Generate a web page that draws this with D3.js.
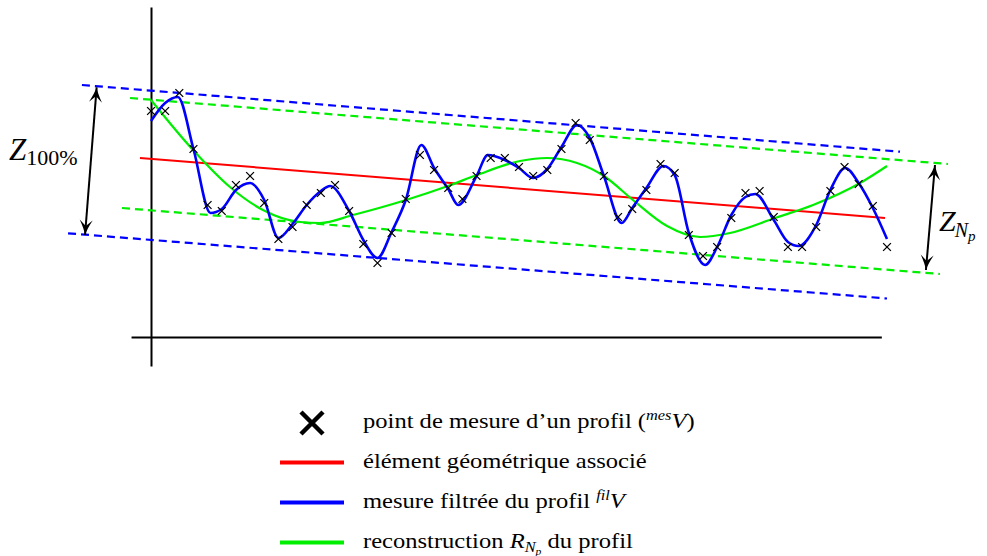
<!DOCTYPE html>
<html><head><meta charset="utf-8">
<script src="https://cdn.jsdelivr.net/npm/d3@7"></script>
<style>body{margin:0;background:#fff} svg{display:block}</style>
</head><body>
<svg id="c" width="987" height="556"></svg>
<script>
// ---- data (x: sample position, v: profile height, arbitrary units) ----
const sampleX = [0,1,2,3,4,5,6,7,8,9,10,11,12,13,14,15,16,17,18,19,20,21,22,23,24,25,26,27,28,29,30,31,32,33,34,35,36,37,38,39,40,41,42,43,44,45,46,47,48,49,50,51,52];
const measuredV = [22.6,22.6,24.4,18.8,13.2,12.6,15.2,16.1,13.4,9.8,11.0,13.2,14.4,15.2,12.6,9.3,7.4,10.4,13.8,18.2,16.7,14.9,13.8,16.1,17.9,17.9,17.0,16.1,16.7,18.8,21.4,19.7,16.1,12.0,12.8,14.7,17.3,16.4,10.2,8.1,9.0,11.9,14.4,14.6,12.0,9.0,9.0,11.0,14.6,17.0,15.3,13.1,9.0];

const filteredX = [0,1,1.9,3,4.2,5,6,7,8,9,10,11,12,12.65,14,15,16,17,18,19.1,20,21,21.7,23,23.8,25,26,27,28,29,30.1,31,32,33.25,34,35,36.2,37,38,39.15,40,41,42,42.7,44,45,45.75,47,48,49.05,50,51,52];
const filteredV = [21.6,23.4,24.0,18.8,12.4,12.8,14.7,15.4,13.7,9.9,11.3,13.2,14.6,15.1,12.6,9.7,7.9,10.5,13.7,19.2,16.9,14.8,13.2,16.1,18.2,17.7,16.9,15.9,16.8,19.0,21.2,19.9,16.1,11.4,12.9,14.9,17.1,16.2,10.4,7.2,9.0,12.2,14.0,14.3,11.7,9.5,9.1,11.2,14.7,16.9,15.4,12.9,9.8];

const reconX = [0,2.97,5.58,7.91,10.53,11.94,14.27,18.02,20.98,23.03,26.07,27.98,30.1,32.0,34.05,36.46,38.79,40.91,44.09,46.78,50.1,52];
const reconV = [23.7,18.7,15.0,12.7,11.5,11.4,12.2,13.7,15.1,16.2,17.6,17.9,17.4,16.1,13.7,11.1,10.0,10.4,11.9,13.2,15.4,17.1];

const assocX = [-0.78, 51.86];
const assocV = [17.9, 11.9];

const envBlueTopX = [-4.88, 52.92], envBlueTopV = [25.2, 18.53];
const envBlueBotX = [-5.86, 52.0],  envBlueBotV = [10.37, 3.85];
const envGreenTopX = [-1.48, 56.31], envGreenTopV = [23.9, 17.3];
const envGreenBotX = [-2.05, 55.74], envGreenBotV = [12.9, 6.3];

const arrowZ100X = [-3.84, -4.66], arrowZ100V = [24.97, 10.2];
const arrowZNpX = [55.39, 54.75], arrowZNpV = [17.2, 6.7];

const axisXExtent = [-1.41, 51.6];
const axisVExtent = [-2.9, 33.0];

const legendLabels = ["point de mesure d’un profil", "élément géométrique associé", "mesure filtrée du profil", "reconstruction"];

// ---- drawing ----
const svg = d3.select("#c");
const x = d3.scaleLinear().domain([0, 52]).range([151, 887]);
const y = d3.scaleLinear().domain([0, 33]).range([337, 7]);

const zip = (xs, vs) => xs.map((d, i) => [d, vs[i]]);
const line = d3.line().x(d => x(d[0])).y(d => y(d[1]));

// axes (no ticks)
const xAxisScale = d3.scaleLinear().domain(axisXExtent).range(axisXExtent.map(x));
const yAxisScale = d3.scaleLinear().domain(axisVExtent).range(axisVExtent.map(y));
const gx = svg.append("g").attr("transform", `translate(0,${y(0)})`)
  .call(d3.axisBottom(xAxisScale).tickValues([]).tickSizeOuter(0));
const gy = svg.append("g").attr("transform", `translate(${x(0)},0)`)
  .call(d3.axisLeft(yAxisScale).tickValues([]).tickSizeOuter(0));
[gx, gy].forEach(g => g.select(".domain").attr("stroke", "#000").attr("stroke-width", 2));

// dashed envelopes
const dashed = [
  [envBlueTopX, envBlueTopV, "#0000ff"],
  [envBlueBotX, envBlueBotV, "#0000ff"],
  [envGreenTopX, envGreenTopV, "#00ee00"],
  [envGreenBotX, envGreenBotV, "#00ee00"]
];
dashed.forEach(([xs, vs, c]) => {
  svg.append("path").attr("d", line(zip(xs, vs)))
    .attr("fill", "none").attr("stroke", c).attr("stroke-width", 2.2)
    .attr("stroke-dasharray", "8,5");
});

// associated element (red)
svg.append("path").attr("d", line(zip(assocX, assocV)))
  .attr("fill", "none").attr("stroke", "#ff0000").attr("stroke-width", 2);

// reconstruction (green)
svg.append("path").attr("d", line.curve(d3.curveMonotoneX)(zip(reconX, reconV)))
  .attr("fill", "none").attr("stroke", "#00ee00").attr("stroke-width", 2.2);

// filtered (blue)
svg.append("path").attr("d", line.curve(d3.curveMonotoneX)(zip(filteredX, filteredV)))
  .attr("fill", "none").attr("stroke", "#0000ff").attr("stroke-width", 2.6);

// measured points (crosses)
const cross = r => `M${-r},${-r}L${r},${r}M${-r},${r}L${r},${-r}`;
svg.append("g").selectAll("path").data(zip(sampleX, measuredV)).join("path")
  .attr("transform", d => `translate(${x(d[0])},${y(d[1])})`)
  .attr("d", cross(3.9)).attr("stroke", "#000").attr("stroke-width", 1.3).attr("fill", "none");

// double arrows
function doubleArrow(xs, vs) {
  const p0 = [x(xs[0]), y(vs[0])], p1 = [x(xs[1]), y(vs[1])];
  svg.append("line").attr("x1", p0[0]).attr("y1", p0[1]).attr("x2", p1[0]).attr("y2", p1[1])
    .attr("stroke", "#000").attr("stroke-width", 2);
  const head = (tip, from) => {
    const a = Math.atan2(tip[1] - from[1], tip[0] - from[0]);
    const L = 15, W = 6.5, I = 9;
    const tr = ([u, v]) => [tip[0] + u * Math.cos(a) - v * Math.sin(a), tip[1] + u * Math.sin(a) + v * Math.cos(a)];
    const pts = [[0, 0], [-L, W], [-I, 0], [-L, -W]].map(tr);
    const c1 = tr([-6, 1.5]), c2 = tr([-6, -1.5]);
    svg.append("path").attr("d", `M${pts[0]}Q${c1} ${pts[1]}L${pts[2]}L${pts[3]}Q${c2} ${pts[0]}Z`)
      .attr("fill", "#000");
  };
  head(p0, p1); head(p1, p0);
}
doubleArrow(arrowZ100X, arrowZ100V);
doubleArrow(arrowZNpX, arrowZNpV);

const serif = "Liberation Serif, DejaVu Serif, serif";

// Z100% label
const tz = svg.append("text").attr("x", 9).attr("y", 160).attr("font-family", serif).attr("fill", "#000");
tz.append("tspan").attr("font-style", "italic").attr("font-size", 31).text("Z");
tz.append("tspan").attr("font-size", 22).attr("dy", 5).attr("dx", 0).text("100%");

// ZNp label
const tn = svg.append("text").attr("x", 939).attr("y", 231).attr("font-family", serif).attr("fill", "#000");
tn.append("tspan").attr("font-style", "italic").attr("font-size", 30).text("Z");
tn.append("tspan").attr("font-style", "italic").attr("font-size", 20).attr("dy", 6).attr("dx", -1).text("N");
tn.append("tspan").attr("font-style", "italic").attr("font-size", 15).attr("dy", 4).text("p");

// legend
const lg = svg.append("g").attr("font-family", serif).attr("font-size", 21).attr("fill", "#000");
const rowY = i => 428.5 + 40 * i;
lg.append("path").attr("transform", `translate(312,${rowY(0) - 5.5})`).attr("d", cross(11))
  .attr("stroke", "#000").attr("stroke-width", 4.5).attr("fill", "none");
["#ff0000", "#0000ff", "#00ee00"].forEach((c, i) => {
  lg.append("line").attr("x1", 280).attr("x2", 344).attr("y1", rowY(i + 1) - 6).attr("y2", rowY(i + 1) - 6)
    .attr("stroke", c).attr("stroke-width", 4);
});
const tx = 363;
const tg = lg.append("g").attr("transform", `translate(${tx},0) scale(1.17,1)`);
const t0 = tg.append("text").attr("x", 0).attr("y", rowY(0));
t0.append("tspan").text(legendLabels[0] + " (");
t0.append("tspan").attr("font-style", "italic").attr("font-size", 14).attr("dy", -8).text("mes");
t0.append("tspan").attr("font-style", "italic").attr("dy", 8).text("V");
t0.append("tspan").text(")");

tg.append("text").attr("x", 0).attr("y", rowY(1)).text(legendLabels[1]);

const t2 = tg.append("text").attr("x", 0).attr("y", rowY(2));
t2.append("tspan").text(legendLabels[2] + " ");
t2.append("tspan").attr("font-style", "italic").attr("font-size", 14).attr("dy", -8).text("fil");
t2.append("tspan").attr("font-style", "italic").attr("dy", 8).text("V");

const t3 = tg.append("text").attr("x", 0).attr("y", rowY(3));
t3.append("tspan").text(legendLabels[3] + " ");
t3.append("tspan").attr("font-style", "italic").text("R");
t3.append("tspan").attr("font-style", "italic").attr("font-size", 14).attr("dy", 4).text("N");
t3.append("tspan").attr("font-style", "italic").attr("font-size", 10).attr("dy", 3).text("p");
t3.append("tspan").attr("dy", -7).text(" du profil");
</script>
</body></html>
